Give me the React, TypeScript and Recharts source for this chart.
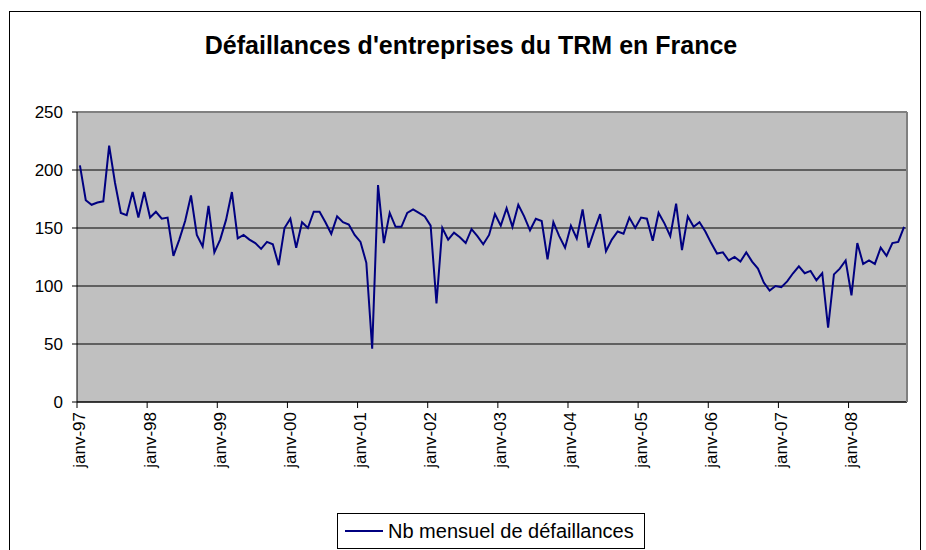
import { LineChart, Line, XAxis, YAxis, CartesianGrid, Legend } from 'recharts';

const monthNames = ['janv', 'févr', 'mars', 'avr', 'mai', 'juin', 'juil', 'août', 'sept', 'oct', 'nov', 'déc'];
const years = ['97', '98', '99', '00', '01', '02', '03', '04', '05', '06', '07', '08'];

// Nb mensuel de défaillances, janv-97 -> oct-08
const defaillances = [
  204, 174, 170, 172, 173, 221, 189, 163, 161, 181, 159, 181,
  159, 164, 158, 159, 126, 140, 156, 178, 144, 134, 169, 129,
  140, 157, 181, 141, 144, 140, 137, 132, 138, 136, 118, 150,
  158, 133, 155, 150, 164, 164, 155, 145, 160, 155, 153, 144,
  138, 120, 46, 187, 137, 163, 151, 151, 163, 166, 163, 160,
  152, 85, 150, 140, 146, 142, 137, 149, 143, 136, 144, 162,
  152, 167, 151, 170, 160, 148, 158, 156, 123, 155, 143, 133,
  152, 141, 166, 133, 148, 162, 130, 140, 147, 145, 159, 150,
  159, 158, 139, 163, 154, 143, 171, 131, 160, 151, 155, 147,
  137, 128, 129, 122, 125, 121, 129, 121, 115, 103, 96, 100,
  99, 104, 111, 117, 111, 113, 105, 111, 64, 110, 115, 122,
  92, 137, 119, 122, 119, 133, 126, 137, 138, 151,
];

const yTicks = [0, 50, 100, 150, 200, 250];

const data = defaillances.map((nb, i) => ({
  mois: `${monthNames[i % 12]}-${years[Math.floor(i / 12)]}`,
  nb,
}));

const FONT = "Arial, 'Liberation Sans', sans-serif";
const W = 926;
const H = 550;
const margin = { top: 111, right: 18, bottom: 8, left: 17 };
const Y_AXIS_W = 60;
const PLOT_W = W - margin.left - Y_AXIS_W - margin.right - 1;
const halfBand = PLOT_W / defaillances.length / 2;

function MonthTick({ x, y, payload }: any) {
  return (
    <g>
      <line x1={x - halfBand} x2={x - halfBand} y1={y} y2={y + 6} stroke="#000" />
      <text
        x={x}
        y={y + 10}
        transform={`rotate(-90 ${x} ${y + 10})`}
        textAnchor="end"
        dominantBaseline="central"
        fontSize={17}
        fontFamily={FONT}
        fill="#000"
      >
        {payload.value}
      </text>
    </g>
  );
}

function LegendBox() {
  return (
    <div
      style={{
        boxSizing: 'border-box',
        width: '100%',
        height: '100%',
        border: '1px solid #000',
        background: '#fff',
        display: 'flex',
        alignItems: 'center',
        paddingLeft: 7,
        fontFamily: FONT,
        fontSize: 20,
        color: '#000',
      }}
    >
      <span style={{ display: 'inline-block', width: 38, height: 2, background: '#000080', marginRight: 5 }} />
      Nb mensuel de défaillances
    </div>
  );
}

export default function App() {
  return (
    <div style={{ position: 'absolute', left: 0, top: 0, width: W, height: H, overflow: 'hidden', background: '#fff' }}>
      <div
        style={{
          position: 'absolute',
          left: 9,
          top: 11,
          width: 912,
          height: 600,
          border: '1px solid #000',
          boxSizing: 'border-box',
        }}
      />
      <div
        style={{
          position: 'absolute',
          left: 9,
          top: 33,
          width: 924,
          textAlign: 'center',
          fontFamily: FONT,
          fontWeight: 'bold',
          fontSize: 25,
          lineHeight: '25px',
          color: '#000',
        }}
      >
        Défaillances d'entreprises du TRM en France
      </div>
      <div style={{ position: 'absolute', left: 0, top: 0 }}>
        <LineChart width={W} height={H} data={data} margin={margin}>
          <CartesianGrid vertical={false} stroke="#000" fill="#C0C0C0" fillOpacity={1} />
          <XAxis
            dataKey="mois"
            scale="band"
            interval={11}
            height={140}
            tickLine={false}
            tickSize={0}
            tickMargin={0}
            axisLine={{ stroke: '#000' }}
            tick={<MonthTick />}
          />
          <XAxis xAxisId="top" orientation="top" dataKey="mois" scale="band" height={1} tick={false} tickLine={false} axisLine={{ stroke: '#808080', strokeWidth: 2 }} />
          <YAxis
            domain={[0, 250]}
            ticks={yTicks}
            width={Y_AXIS_W}
            tickSize={5}
            tickMargin={9}
            tickLine={{ stroke: '#000' }}
            axisLine={{ stroke: '#000' }}
            tick={{ fill: '#000', fontSize: 17, fontFamily: FONT }}
          />
          <YAxis yAxisId="right" orientation="right" domain={[0, 250]} width={1} tick={false} tickLine={false} axisLine={{ stroke: '#808080', strokeWidth: 2 }} />
          <Legend
            layout="horizontal"
            verticalAlign="middle"
            align="center"
            wrapperStyle={{ position: 'absolute', left: 337, top: 513, width: 308, height: 36 }}
            content={<LegendBox />}
          />
          <Line
            type="linear"
            dataKey="nb"
            stroke="#000080"
            strokeWidth={2}
            dot={false}
            isAnimationActive={false}
          />
        </LineChart>
      </div>
    </div>
  );
}
